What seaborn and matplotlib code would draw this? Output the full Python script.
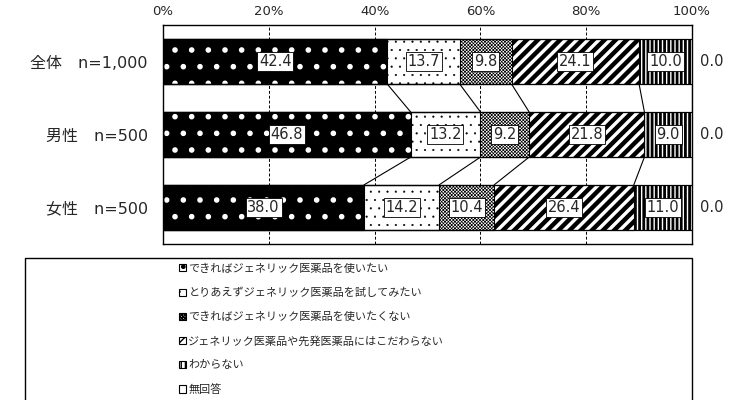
import matplotlib as mpl
mpl.use('Agg')
import numpy as np
import pandas as pd
import seaborn as sns
import matplotlib.pyplot as plt
from matplotlib.patches import Rectangle, Patch

sns.set_theme(style='white')
plt.rcParams['font.family'] = ['DejaVu Sans', 'Noto Sans CJK JP']

groups = ['全体\u3000n=1,000', '男性\u3000n=500', '女性\u3000n=500']
answers = ['できればジェネリック医薬品を使いたい',
           'とりあえずジェネリック医薬品を試してみたい',
           'できればジェネリック医薬品を使いたくない',
           'ジェネリック医薬品や先発医薬品にはこだわらない',
           'わからない',
           '無回答']
want = [42.4, 46.8, 38.0]
try_it = [13.7, 13.2, 14.2]
dont_want = [9.8, 9.2, 10.4]
no_pref = [24.1, 21.8, 26.4]
dont_know = [10.0, 9.0, 11.0]
no_answer = [0.0, 0.0, 0.0]

series = [want, try_it, dont_want, no_pref, dont_know, no_answer]
# face, hatch colour, hatch, hatch linewidth
styles = [('black', 'white', '.', 1.6),
          ('white', 'black', '..', 0.3),
          ('white', 'black', 'xxxxxxxxxx', 0.5),
          ('white', 'black', '///', 3.2),
          ('white', 'black', '||||', 2.0),
          ('white', 'black', '', 1.0)]

vals = np.array(series)
cum = vals.cumsum(axis=0)
start = cum - vals

rows = []
for i, ans in enumerate(answers):
    for j, g in enumerate(groups):
        rows.append({'group': g, 'answer': ans, 'value': vals[i, j],
                     'cum': cum[i, j], 'start': start[i, j]})
df = pd.DataFrame(rows)

fig = plt.figure(figsize=(7.4, 4.0), dpi=100)
ax = fig.add_axes([163 / 740, 156 / 400, 529 / 740, 219 / 400])

barw = 0.62
# draw cumulative bars from the back so every segment stays visible
for i in reversed(range(len(answers))):
    face, hcol, hatch, hlw = styles[i]
    sub = df[df['answer'] == answers[i]]
    n_before = len(ax.patches)
    sns.barplot(data=sub, x='cum', y='group', order=groups, orient='h',
                color=face, saturation=1, width=barw, errorbar=None,
                edgecolor=hcol, linewidth=0, hatch=hatch, ax=ax, zorder=2)
    for p in ax.patches[n_before:]:
        if hasattr(p, 'set_hatch_linewidth'):
            p.set_hatch_linewidth(hlw)

# outlines
for i in range(len(answers)):
    sub = df[df['answer'] == answers[i]]
    sns.barplot(data=sub, x='cum', y='group', order=groups, orient='h',
                fill=False, color='black', width=barw, errorbar=None,
                linewidth=0.8, ax=ax, zorder=3)

# connector lines between rows
for i in range(len(answers) - 1):
    for j in range(len(groups) - 1):
        ax.plot([cum[i, j], cum[i, j + 1]], [j + barw / 2, j + 1 - barw / 2],
                color='black', lw=0.8, zorder=1)

# value labels
for i in range(len(answers) - 1):
    for j in range(len(groups)):
        ax.text(start[i, j] + vals[i, j] / 2, j, f'{vals[i, j]:.1f}',
                ha='center', va='center', fontsize=10.5, zorder=4,
                bbox=dict(boxstyle='square,pad=0.12', fc='white', ec='black', lw=0.6))
for j in range(len(groups)):
    ax.text(101.6, j, f'{no_answer[j]:.1f}', ha='left', va='center', fontsize=10.5)

ax.set_xlim(0, 100)
ax.set_ylim(2.5, -0.5)
ax.xaxis.tick_top()
ax.set_xticks([0, 20, 40, 60, 80, 100])
ax.set_xticklabels([f'{t}%' for t in [0, 20, 40, 60, 80, 100]], fontsize=9.5)
ax.tick_params(axis='x', length=0, pad=5)
ax.tick_params(axis='y', length=0, pad=11, labelsize=11.5)
ax.set_xlabel('')
ax.set_ylabel('')
for x in [20, 40, 60, 80]:
    ax.axvline(x, color='black', lw=0.7, ls=(0, (3, 2)), zorder=0)
for s in ax.spines.values():
    s.set_color('black')
    s.set_linewidth(1.0)

# legend box
fig.patches.append(Rectangle((25 / 740, -0.05), 667 / 740, 0.05 + 142 / 400,
                             transform=fig.transFigure, fill=False,
                             ec='black', lw=1.0))
handles = [Patch(facecolor='white', edgecolor='black', hatch=s[2], lw=0.8)
           for s in styles]
fig.legend(handles, answers, loc='upper left', bbox_to_anchor=(175 / 740, 1 - 259 / 400),
           frameon=False, fontsize=8, handlelength=0.6, handleheight=0.6,
           handletextpad=0.2, labelspacing=1.24, borderaxespad=0)

fig.savefig('out.png', dpi=100)
